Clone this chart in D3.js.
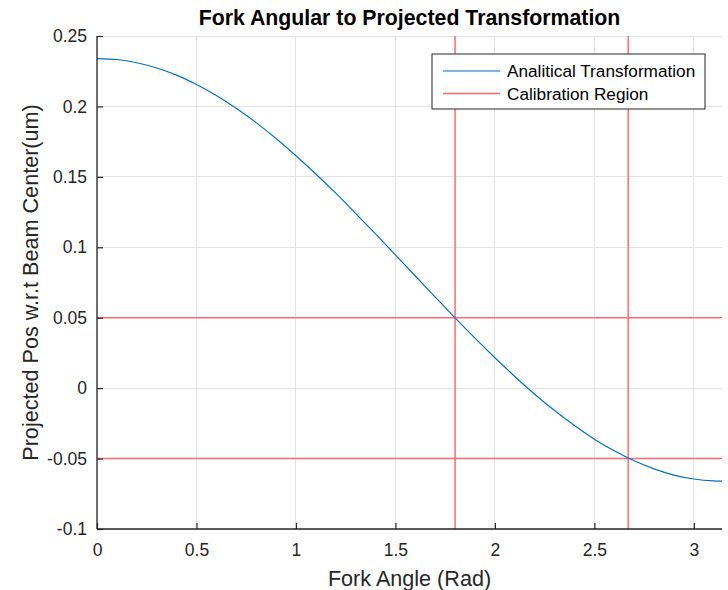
<!DOCTYPE html>
<html>
<head>
<meta charset="utf-8">
<script src="https://cdn.jsdelivr.net/npm/d3@7"></script>
<style>
  html, body { margin: 0; padding: 0; background: #fff; }
  svg { display: block; font-family: "Liberation Sans", Arial, Helvetica, sans-serif; }
</style>
</head>
<body>
<svg id="chart" width="728" height="590"></svg>
<script>
// Fork angle samples (rad) and projected position w.r.t. beam center (um)
const angle = [0.0, 0.1, 0.2, 0.3, 0.4, 0.5, 0.6, 0.7, 0.8, 0.9, 1.0, 1.1, 1.2, 1.3, 1.4, 1.5,
  1.6, 1.7, 1.8, 1.9, 2.0, 2.1, 2.2, 2.3, 2.4, 2.5, 2.6, 2.7, 2.8, 2.9, 3.0, 3.1, 3.1416];
const projected = [0.2340, 0.2333, 0.2310, 0.2273, 0.2222, 0.2156, 0.2078, 0.1987, 0.1885, 0.1772,
  0.1650, 0.1520, 0.1384, 0.1241, 0.1095, 0.0946, 0.0796, 0.0647, 0.0499, 0.0355, 0.0216,
  0.0083, -0.0043, -0.0159, -0.0266, -0.0362, -0.0445, -0.0516, -0.0573, -0.0617, -0.0645,
  -0.0659, -0.0660];

// Calibration region bounds
const calibAngles = [1.8, 2.67];
const calibPositions = [0.05, -0.05];

// Axis ticks
const xTicks = [0, 0.5, 1, 1.5, 2, 2.5, 3];
const yTicks = [-0.1, -0.05, 0, 0.05, 0.1, 0.15, 0.2, 0.25];
const xDomain = [0, 3.1416];
const yDomain = [-0.1, 0.25];

const legendLabels = ["Analitical Transformation", "Calibration Region"];

const svg = d3.select("#chart");
const pLeft = 97, pRight = 722, pTop = 36, pBottom = 529;

const x = d3.scaleLinear().domain(xDomain).range([pLeft, pRight]);
const y = d3.scaleLinear().domain(yDomain).range([pBottom, pTop]);

const blue = "#0072BD";
const red = "#ff6b6b";
const axisColor = "#262626";

// plain hyphen for negative tick labels
const fmt = d3.formatLocale({ decimal: ".", thousands: ",", grouping: [3], currency: ["", ""], minus: "-" }).format("~g");

// grid
const grid = svg.append("g");
grid.selectAll("line.gx").data(xTicks).join("line")
  .attr("x1", d => x(d)).attr("x2", d => x(d))
  .attr("y1", pTop).attr("y2", pBottom)
  .attr("stroke", "#e3e3e3").attr("stroke-width", 1).attr("shape-rendering", "crispEdges");
grid.selectAll("line.gy").data(yTicks).join("line")
  .attr("x1", pLeft).attr("x2", pRight)
  .attr("y1", d => y(d)).attr("y2", d => y(d))
  .attr("stroke", "#e3e3e3").attr("stroke-width", 1).attr("shape-rendering", "crispEdges");

// calibration region lines
const calib = svg.append("g").attr("stroke", red).attr("stroke-width", 1.5);
calib.selectAll("line.v").data(calibAngles).join("line")
  .attr("x1", d => x(d)).attr("x2", d => x(d))
  .attr("y1", pTop).attr("y2", pBottom);
calib.selectAll("line.h").data(calibPositions).join("line")
  .attr("x1", pLeft).attr("x2", pRight)
  .attr("y1", d => y(d)).attr("y2", d => y(d));

// transformation curve
const pts = angle.map((a, i) => [a, projected[i]]);
svg.append("path")
  .datum(pts)
  .attr("fill", "none")
  .attr("stroke", blue)
  .attr("stroke-width", 1.2)
  .attr("d", d3.line().x(d => x(d[0])).y(d => y(d[1])).curve(d3.curveNatural));

// axes (inward ticks)
const xAxis = d3.axisBottom(x).tickValues(xTicks).tickSize(-6).tickPadding(15).tickFormat(fmt);
const yAxis = d3.axisLeft(y).tickValues(yTicks).tickSize(-6).tickPadding(10).tickFormat(fmt);

const gx = svg.append("g").attr("transform", `translate(0,${pBottom})`).call(xAxis);
const gy = svg.append("g").attr("transform", `translate(${pLeft},0)`).call(yAxis);
[gx, gy].forEach(g => {
  g.select(".domain").attr("stroke", axisColor).attr("stroke-width", 1.3);
  g.selectAll(".tick line").attr("stroke", axisColor).attr("stroke-width", 1.2);
  g.selectAll(".tick text").attr("fill", axisColor).attr("font-size", 17.5)
    .attr("font-family", "'Liberation Sans', Arial, sans-serif");
});
gx.select(".domain").attr("d", `M${pLeft},0H${pRight}`);
gy.select(".domain").attr("d", `M0,${pBottom}V${pTop}`);

// title and axis labels
svg.append("text")
  .attr("x", (pLeft + pRight) / 2).attr("y", 25)
  .attr("text-anchor", "middle").attr("font-weight", "bold").attr("font-size", 21.3)
  .attr("fill", "#000")
  .text("Fork Angular to Projected Transformation");

svg.append("text")
  .attr("x", (pLeft + pRight) / 2).attr("y", 586)
  .attr("text-anchor", "middle").attr("font-size", 21.6).attr("fill", axisColor)
  .text("Fork Angle (Rad)");

svg.append("text")
  .attr("transform", `translate(38,${(pTop + pBottom) / 2}) rotate(-90)`)
  .attr("text-anchor", "middle").attr("font-size", 21.6).attr("fill", axisColor)
  .text("Projected Pos w.r.t Beam Center(um)");

// legend
const lg = svg.append("g").attr("transform", "translate(432,54)");
lg.append("rect").attr("width", 273).attr("height", 55)
  .attr("fill", "#fff").attr("stroke", axisColor).attr("stroke-width", 1);
const legendColors = [blue, red];
const rows = lg.selectAll("g.row").data(legendLabels).join("g")
  .attr("transform", (d, i) => `translate(0,${17 + i * 22.6})`);
rows.append("line").attr("x1", 11).attr("x2", 68).attr("y1", 0).attr("y2", 0)
  .attr("stroke", (d, i) => legendColors[i]).attr("stroke-width", (d, i) => i ? 1.5 : 1.2);
rows.append("text").attr("x", 75).attr("y", 6)
  .attr("font-size", 17.2).attr("fill", "#000").text(d => d);
</script>
</body>
</html>
